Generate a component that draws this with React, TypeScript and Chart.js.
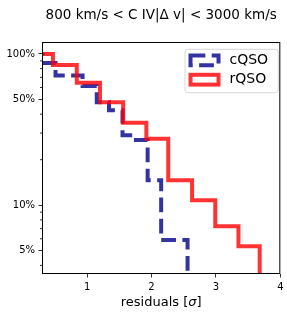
import React, { useEffect, useRef } from "react";
import { Chart, registerables } from "chart.js";

Chart.register(...registerables);

// ---------- data ----------
const TITLE = "800 km/s < C IV|Δ v| < 3000 km/s";
const X_LABEL_PARTS = ["residuals [", "σ", "]"];
const SERIES_LABELS = ["cQSO", "rQSO"];

// survival-function step edges (x, in sigma) and the level that starts at each edge (fraction)
const cqsoEdges = [0.1, 0.31, 0.51, 0.93, 1.15, 1.34, 1.55, 1.71, 1.94, 2.15, 2.56];
const cqsoLevels = [1.0, 0.87, 0.72, 0.615, 0.48, 0.425, 0.29, 0.27, 0.146, 0.059, 0];
const rqsoEdges = [0.11, 0.47, 0.84, 1.2, 1.56, 1.92, 2.26, 2.63, 2.99, 3.35, 3.68];
const rqsoLevels = [1.0, 0.846, 0.645, 0.479, 0.351, 0.275, 0.146, 0.108, 0.0726, 0.0535, 0];

const X_TICKS = [1, 2, 3, 4];
const Y_LABELED_TICKS = [0.05, 0.1, 0.5, 1.0];
const Y_MINOR_TICKS = [0.04, 0.06, 0.07, 0.08, 0.09, 0.2, 0.3, 0.4, 0.6, 0.7, 0.8, 0.9];

const X_MIN = 0.3;
const X_MAX = 4;
const Y_MIN = 0.0351;
const Y_MAX = 1.2;

// a zero level cannot sit on a log axis: draw it just below the visible range (clipped)
const toLog = (v: number) => (v > 0 ? v : Y_MIN / 2);

// ---------- styles ----------
const BLUE = "rgba(0,0,139,0.8)";
const RED = "rgba(255,0,0,0.8)";
const FONT = "'DejaVu Sans', sans-serif";

const decorPlugin = {
  id: "decor",
  afterDraw(chart: any) {
    const { ctx, chartArea } = chart;
    const { left, right, top, bottom } = chartArea;
    const yScale = chart.scales.y;
    ctx.save();

    // minor ticks on y
    ctx.strokeStyle = "#000";
    ctx.lineWidth = 0.8;
    for (const v of Y_MINOR_TICKS) {
      const py = yScale.getPixelForValue(v);
      if (py < top || py > bottom) continue;
      ctx.beginPath();
      ctx.moveTo(left - 2, py);
      ctx.lineTo(left, py);
      ctx.stroke();
    }

    // frame
    ctx.lineWidth = 1;
    ctx.strokeStyle = "#000";
    ctx.strokeRect(left + 0.5, top + 0.5, right - left - 1, bottom - top - 1);

    // title
    ctx.fillStyle = "#000";
    ctx.font = `13.5px ${FONT}`;
    ctx.textAlign = "center";
    ctx.textBaseline = "alphabetic";
    ctx.fillText(TITLE, (left + right) / 2, 19);

    // x label with italic sigma
    const fonts = [`13px ${FONT}`, `italic 13px ${FONT}`, `13px ${FONT}`];
    let total = 0;
    const widths = X_LABEL_PARTS.map((t, i) => {
      ctx.font = fonts[i];
      const w = ctx.measureText(t).width;
      total += w;
      return w;
    });
    let x = (left + right) / 2 - total / 2;
    ctx.textAlign = "left";
    X_LABEL_PARTS.forEach((t, i) => {
      ctx.font = fonts[i];
      ctx.fillText(t, x, 305.5);
      x += widths[i];
    });

    // legend
    const bx = right - 95.3;
    const by = top + 7.3;
    const bw = 93.3;
    const bh = 43.4;
    ctx.beginPath();
    const r = 3;
    ctx.moveTo(bx + r, by);
    ctx.lineTo(bx + bw - r, by);
    ctx.quadraticCurveTo(bx + bw, by, bx + bw, by + r);
    ctx.lineTo(bx + bw, by + bh - r);
    ctx.quadraticCurveTo(bx + bw, by + bh, bx + bw - r, by + bh);
    ctx.lineTo(bx + r, by + bh);
    ctx.quadraticCurveTo(bx, by + bh, bx, by + bh - r);
    ctx.lineTo(bx, by + r);
    ctx.quadraticCurveTo(bx, by, bx + r, by);
    ctx.closePath();
    ctx.fillStyle = "rgba(255,255,255,0.8)";
    ctx.fill();
    ctx.strokeStyle = "rgba(204,204,204,0.8)";
    ctx.lineWidth = 1;
    ctx.stroke();

    const rows = [by + 11, by + 30.4];
    chart.data.datasets.forEach((ds: any, i: number) => {
      const cy = rows[i];
      ctx.save();
      ctx.strokeStyle = ds.borderColor;
      ctx.lineWidth = ds.borderWidth;
      ctx.setLineDash(ds.borderDash || []);
      ctx.strokeRect(bx + 5.5, cy - 4.9, 28, 9.8);
      ctx.restore();
      ctx.fillStyle = "#000";
      ctx.font = `14px ${FONT}`;
      ctx.textAlign = "left";
      ctx.textBaseline = "middle";
      ctx.fillText(ds.label, bx + 44.5, cy);
    });

    ctx.restore();
  },
};

export default function App() {
  const ref = useRef<HTMLCanvasElement | null>(null);

  useEffect(() => {
    if (!ref.current) return;
    const chart = new Chart(ref.current, {
      type: "line",
      data: {
        datasets: [
          {
            label: SERIES_LABELS[0],
            data: cqsoEdges.map((x, i) => ({ x, y: toLog(cqsoLevels[i]) })),
            borderColor: BLUE,
            backgroundColor: "transparent",
            borderWidth: 4,
            borderDash: [14.8, 6.4],
            stepped: "before",
            pointRadius: 0,
            fill: false,
            clip: 0,
            order: 1,
          },
          {
            label: SERIES_LABELS[1],
            data: rqsoEdges.map((x, i) => ({ x, y: toLog(rqsoLevels[i]) })),
            borderColor: RED,
            backgroundColor: "transparent",
            borderWidth: 4,
            stepped: "before",
            pointRadius: 0,
            fill: false,
            clip: 0,
            order: 0,
          },
        ],
      },
      options: {
        responsive: false,
        animation: false,
        events: [],
        layout: { padding: { top: 42, right: 6, left: 0, bottom: 0 } },
        plugins: {
          legend: { display: false },
          title: { display: false },
          tooltip: { enabled: false },
        },
        scales: {
          x: {
            type: "linear",
            min: X_MIN,
            max: X_MAX,
            afterBuildTicks: (s: any) => {
              s.ticks = X_TICKS.map((v) => ({ value: v }));
            },
            afterFit: (s: any) => {
              s.height = 38;
            },
            grid: { drawOnChartArea: false, drawTicks: true, tickLength: 3.5, tickColor: "#000", tickWidth: 0.8 },
            border: { display: false },
            ticks: {
              autoSkip: false,
              maxRotation: 0,
              padding: 3.5,
              color: "#000",
              font: { family: FONT, size: 10 },
              callback: (v: any) => String(v),
            },
          },
          y: {
            type: "logarithmic",
            min: Y_MIN,
            max: Y_MAX,
            afterBuildTicks: (s: any) => {
              s.ticks = [...Y_MINOR_TICKS, ...Y_LABELED_TICKS]
                .sort((a, b) => a - b)
                .map((v) => ({ value: v }));
            },
            afterFit: (s: any) => {
              s.width = 42;
            },
            grid: {
              drawOnChartArea: false,
              drawTicks: true,
              tickLength: 3.5,
              tickWidth: 0.8,
              tickColor: (c: any) =>
                c.tick && Y_LABELED_TICKS.includes(c.tick.value) ? "#000" : "rgba(0,0,0,0)",
            },
            border: { display: false },
            ticks: {
              autoSkip: false,
              padding: 3.5,
              color: "#000",
              font: { family: FONT, size: 10 },
              callback: (v: any) =>
                Y_LABELED_TICKS.includes(v) ? `${Math.round(v * 100)}%` : "",
            },
          },
        },
      },
      plugins: [decorPlugin],
    } as any);
    return () => chart.destroy();
  }, []);

  return (
    <div style={{ position: "absolute", left: 0, top: 0, width: 287, height: 312, background: "#fff" }}>
      <canvas ref={ref} width={287} height={312} style={{ display: "block", width: 287, height: 312 }} />
    </div>
  );
}
